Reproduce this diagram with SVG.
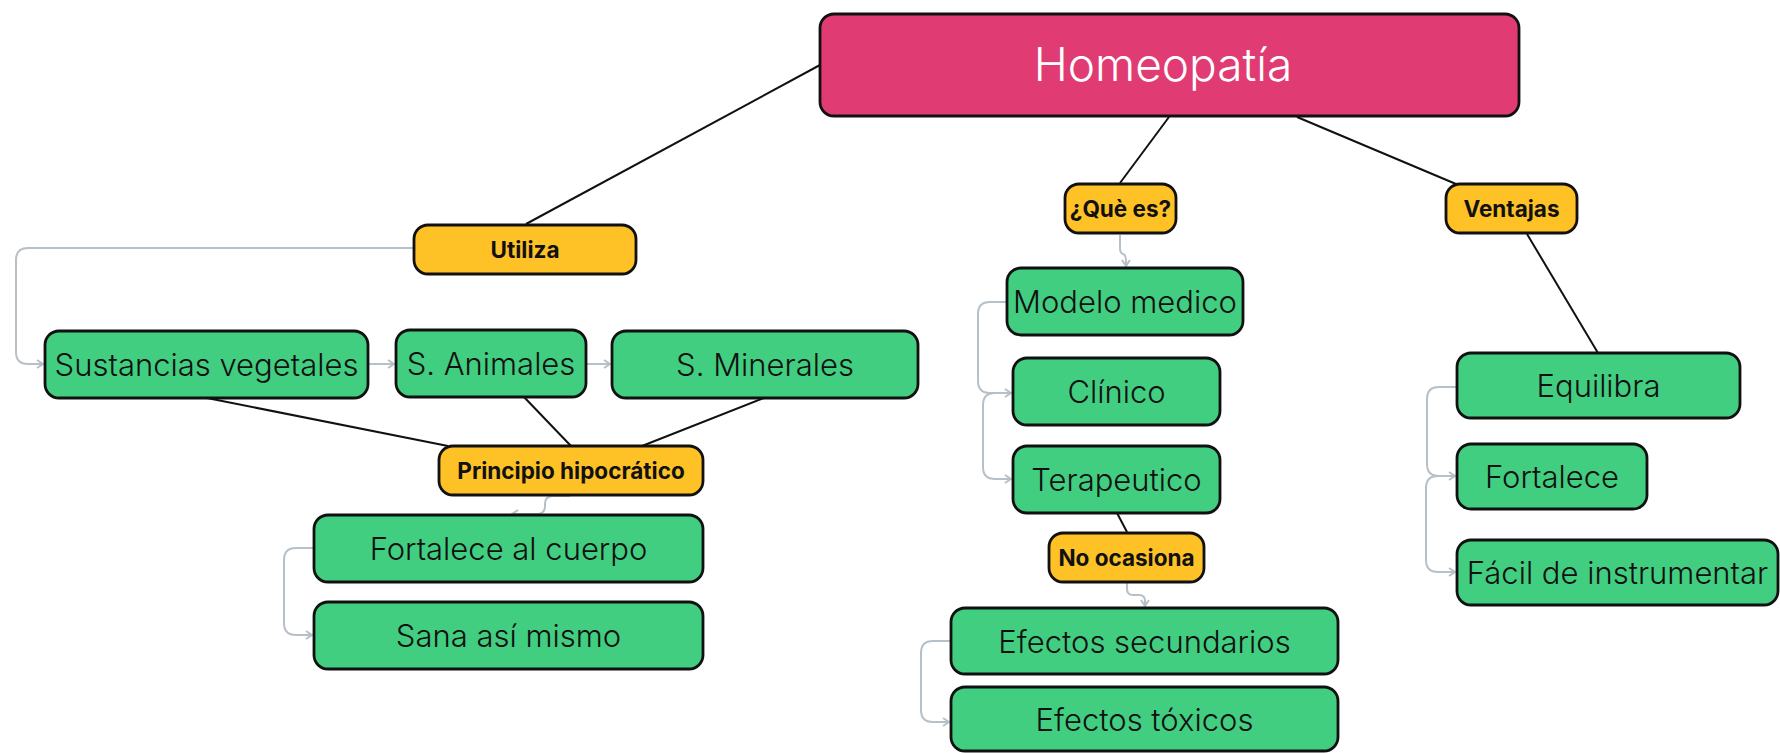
<svg xmlns="http://www.w3.org/2000/svg" width="1780" height="753" viewBox="0 0 1780 753">
<style>
.g rect{fill:#41CE81;stroke:#111;stroke-width:2.8}
.y rect{fill:#FEC226;stroke:#111;stroke-width:2.8}
.p rect{fill:#E03C73;stroke:#111;stroke-width:2.8}
.g text{font-family:Inter,"Liberation Sans",sans-serif;font-weight:300;font-size:31px;fill:#111;text-anchor:middle}
.y text{font-family:Inter,"Liberation Sans",sans-serif;font-weight:700;font-size:22.5px;fill:#111;text-anchor:middle}
.p text{font-family:Inter,"Liberation Sans",sans-serif;font-weight:300;font-size:46px;fill:#fff;text-anchor:middle}
.k{stroke:#111;stroke-width:2;fill:none}
.a{stroke:#B6C0C9;stroke-width:2;fill:none;marker-end:url(#ar)}
</style>
<defs>
<marker id="ar" markerUnits="userSpaceOnUse" markerWidth="12" markerHeight="12" refX="7" refY="5" orient="auto">
<path d="M1,1 L7,5 L1,9" fill="none" stroke="#B6C0C9" stroke-width="2"/>
</marker>
</defs>
<rect width="1780" height="753" fill="#fff"/>
<g id="connectors">
<line class="k" x1="820" y1="65" x2="526" y2="224"/>
<line class="k" x1="1169" y1="117" x2="1120" y2="183"/>
<line class="k" x1="1297" y1="117" x2="1456" y2="184"/>
<line class="k" x1="1527" y1="234" x2="1598" y2="353"/>
<line class="k" x1="207" y1="398" x2="448" y2="446"/>
<line class="k" x1="524" y1="397" x2="571" y2="446"/>
<line class="k" x1="764" y1="398" x2="642" y2="446"/>
<line class="k" x1="1117" y1="513" x2="1127" y2="532"/>
<path class="a" d="M414,248 H28 Q16,248 16,260 V352 Q16,364 28,364 H43"/>
<path class="a" d="M368,364 H394"/>
<path class="a" d="M586,364 H610"/>
<path class="a" d="M570,496 H553 Q545,496 545,504 V506 Q545,514 537,514 H512"/>
<path class="a" d="M314,548 H296 Q284,548 284,560 V623 Q284,635 296,635 H312"/>
<path class="a" d="M1120,235 V248 Q1120,253 1123,254 Q1126,255 1126,260 V266"/>
<path class="a" d="M1007,302 H990 Q978,302 978,314 V381 Q978,393 990,393 H1011"/>
<path class="a" d="M1013,393 H995 Q983,393 983,405 V467 Q983,479 995,479 H1011"/>
<path class="a" d="M1127,583 V589 Q1127,595 1133,595 H1139 Q1145,595 1145,601 V606"/>
<path class="a" d="M951,641 H933 Q921,641 921,653 V710 Q921,722 933,722 H949"/>
<path class="a" d="M1457,387 H1439 Q1427,387 1427,399 V464 Q1427,476 1439,476 H1455"/>
<path class="a" d="M1457,476 H1438 Q1426,476 1426,488 V560 Q1426,572 1438,572 H1455"/>
</g>
<g id="homeopatia" class="p"><rect x="820" y="14" width="699" height="102" rx="14"/><text x="1163" y="81">Homeopatía</text></g>
<g id="utiliza" class="y"><rect x="414" y="225" width="222" height="49" rx="14"/><text x="525" y="257.5">Utiliza</text></g>
<g id="sustancias" class="g"><rect x="45" y="331" width="323" height="67" rx="14"/><text x="206.5" y="375.5">Sustancias vegetales</text></g>
<g id="animales" class="g"><rect x="396" y="330" width="190" height="67" rx="14"/><text x="491" y="374.5">S. Animales</text></g>
<g id="minerales" class="g"><rect x="612" y="331" width="306" height="67" rx="14"/><text x="765" y="375.5">S. Minerales</text></g>
<g id="principio" class="y"><rect x="439" y="446" width="264" height="49" rx="14"/><text x="571" y="478.5">Principio hipocrático</text></g>
<g id="fortalece-cuerpo" class="g"><rect x="314" y="515" width="389" height="67" rx="14"/><text x="508.5" y="559.5">Fortalece al cuerpo</text></g>
<g id="sana" class="g"><rect x="314" y="602" width="389" height="67" rx="14"/><text x="508.5" y="646.5">Sana así mismo</text></g>
<g id="que-es" class="y"><rect x="1065" y="184" width="111" height="49" rx="14"/><text x="1120.5" y="216.5">¿Què es?</text></g>
<g id="ventajas" class="y"><rect x="1446" y="184" width="131" height="49" rx="14"/><text x="1511.5" y="216.5">Ventajas</text></g>
<g id="modelo" class="g"><rect x="1007" y="268" width="236" height="67" rx="14"/><text x="1125" y="312.5">Modelo medico</text></g>
<g id="clinico" class="g"><rect x="1013" y="358" width="207" height="67" rx="14"/><text x="1116.5" y="402.5">Clínico</text></g>
<g id="terapeutico" class="g"><rect x="1013" y="446" width="207" height="67" rx="14"/><text x="1116.5" y="490.5">Terapeutico</text></g>
<g id="no-ocasiona" class="y"><rect x="1049" y="533" width="155" height="49" rx="14"/><text x="1126.5" y="565.5">No ocasiona</text></g>
<g id="efectos-sec" class="g"><rect x="951" y="608" width="387" height="66" rx="14"/><text x="1144.5" y="652.5">Efectos secundarios</text></g>
<g id="efectos-tox" class="g"><rect x="951" y="687" width="387" height="64" rx="14"/><text x="1144.5" y="730.5">Efectos tóxicos</text></g>
<g id="equilibra" class="g"><rect x="1457" y="353" width="283" height="65" rx="14"/><text x="1598.5" y="396.5">Equilibra</text></g>
<g id="fortalece" class="g"><rect x="1457" y="444" width="190" height="65" rx="14"/><text x="1552" y="487.5">Fortalece</text></g>
<g id="facil" class="g"><rect x="1457" y="540" width="321" height="65" rx="14"/><text x="1617.5" y="583.5">Fácil de instrumentar</text></g>
</svg>
